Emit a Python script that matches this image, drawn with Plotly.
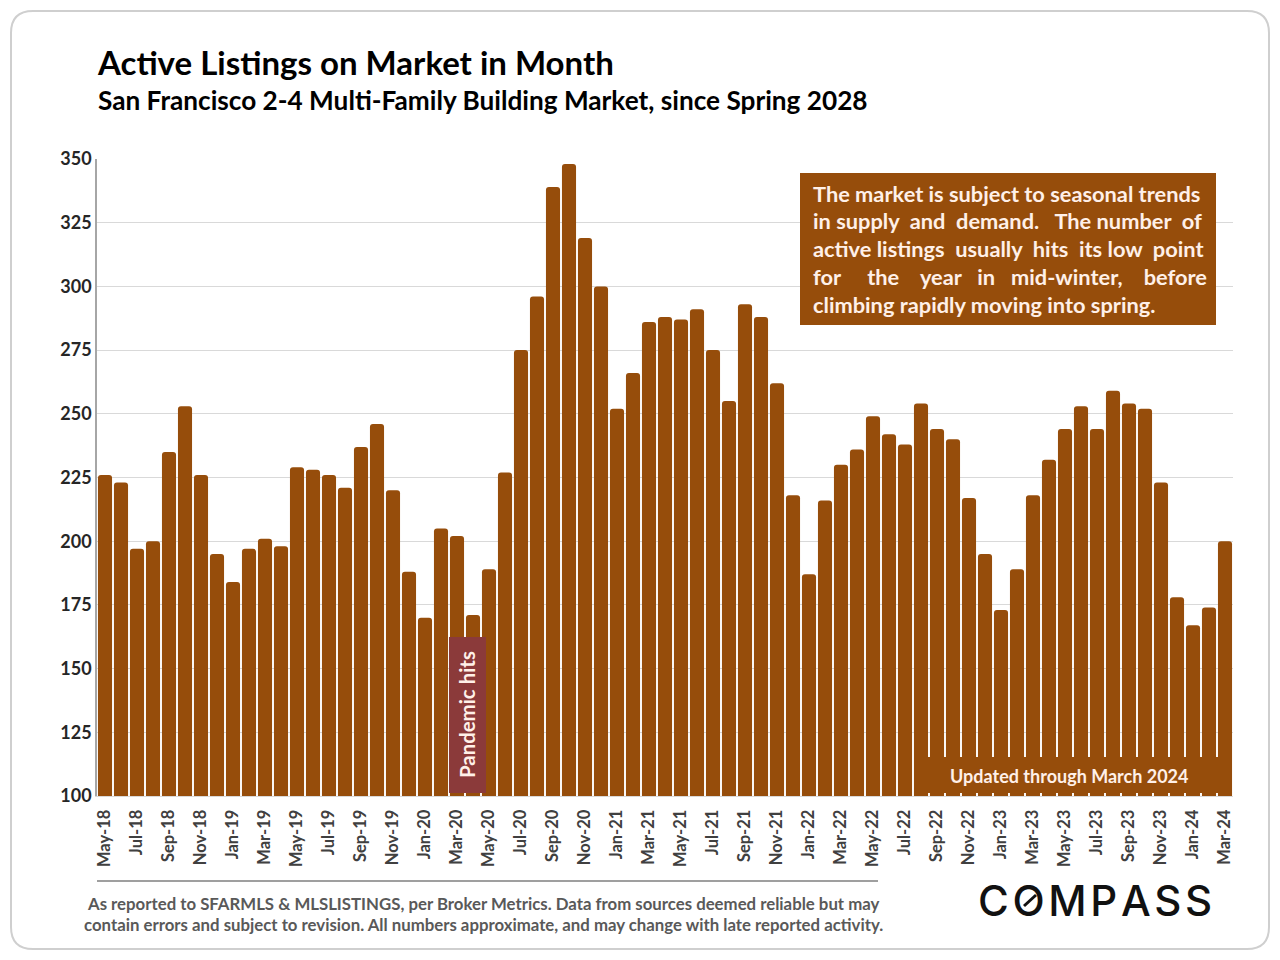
import plotly.graph_objects as go

months = ['May-18','Jun-18','Jul-18','Aug-18','Sep-18','Oct-18','Nov-18','Dec-18',
          'Jan-19','Feb-19','Mar-19','Apr-19','May-19','Jun-19','Jul-19','Aug-19','Sep-19','Oct-19','Nov-19','Dec-19',
          'Jan-20','Feb-20','Mar-20','Apr-20','May-20','Jun-20','Jul-20','Aug-20','Sep-20','Oct-20','Nov-20','Dec-20',
          'Jan-21','Feb-21','Mar-21','Apr-21','May-21','Jun-21','Jul-21','Aug-21','Sep-21','Oct-21','Nov-21','Dec-21',
          'Jan-22','Feb-22','Mar-22','Apr-22','May-22','Jun-22','Jul-22','Aug-22','Sep-22','Oct-22','Nov-22','Dec-22',
          'Jan-23','Feb-23','Mar-23','Apr-23','May-23','Jun-23','Jul-23','Aug-23','Sep-23','Oct-23','Nov-23','Dec-23',
          'Jan-24','Feb-24','Mar-24']
listings = [226,223,197,200,235,253,226,195,
            184,197,201,198,229,228,226,221,237,246,220,188,
            170,205,202,171,189,227,275,296,339,348,319,300,
            252,266,286,288,287,291,275,255,293,288,262,218,
            187,216,230,236,249,242,238,254,244,240,217,195,
            173,189,218,232,244,253,244,259,254,252,223,178,
            167,174,200]
y_ticks = [100,125,150,175,200,225,250,275,300,325,350]
x_ticks = months[::2]

BROWN = '#964D0B'
FONT = 'Lato'
W, H = 1264, 944   # page body keeps an 8px margin


def px(x):
    return (x - 97) / (1233 - 97)


def py(y):
    return (796 - y) / (796 - 159)


def rounded(x0, y0, x1, y1, r):
    return (f'M {px(x0+r)} {py(y0)} L {px(x1-r)} {py(y0)} Q {px(x1)} {py(y0)} {px(x1)} {py(y0+r)} '
            f'L {px(x1)} {py(y1-r)} Q {px(x1)} {py(y1)} {px(x1-r)} {py(y1)} '
            f'L {px(x0+r)} {py(y1)} Q {px(x0)} {py(y1)} {px(x0)} {py(y1-r)} '
            f'L {px(x0)} {py(y0+r)} Q {px(x0)} {py(y0)} {px(x0+r)} {py(y0)} Z')


def note(x, y, text, size, color='#000000', xanchor='left', angle=0, align='left'):
    fig.add_annotation(x=px(x), y=py(y), xref='paper', yref='paper', text=text, showarrow=False,
                       xanchor=xanchor, yanchor='middle', align=align, textangle=angle,
                       font=dict(family=FONT, size=size, color=color, weight=700))


def box(x0, y0, x1, y1, color):
    fig.add_shape(type='rect', xref='paper', yref='paper', x0=px(x0), x1=px(x1), y0=py(y0), y1=py(y1),
                  fillcolor=color, line_width=0)


fig = go.Figure()
fig.add_trace(go.Bar(x=months, y=listings, marker=dict(color=BROWN, line_width=0)))

fig.update_layout(width=W, height=H, showlegend=False, plot_bgcolor='white', paper_bgcolor='white',
                  bargap=0.12, barcornerradius=3,
                  margin=dict(l=89, r=39, t=151, b=156, autoexpand=False))
fig.update_xaxes(type='category', categoryorder='array', categoryarray=months, tickmode='array',
                 tickvals=x_ticks, ticktext=x_ticks, tickangle=-90, ticks='', ticklabelstandoff=6,
                 tickfont=dict(family=FONT, size=16.5, color='#404040', weight=700),
                 showgrid=False, showline=True, linecolor='#D9D9D9', linewidth=1)
fig.update_yaxes(range=[100, 350], tickmode='array', tickvals=y_ticks, ticks='',
                 tickfont=dict(family=FONT, size=18, color='#262626', weight=700),
                 gridcolor='#D9D9D9', gridwidth=1, zeroline=False,
                 showline=True, linecolor='#A6A6A6', linewidth=1.5)

# card outline
fig.add_shape(type='path', xref='paper', yref='paper', path=rounded(11, 11, 1269, 949, 22),
              line=dict(color='#CFCFCF', width=2), layer='below')

# callouts
box(800, 173, 1216, 325, BROWN)
box(449, 637, 486, 793, '#8B3A3A')
box(921, 757, 1222, 793, BROWN)
fig.add_shape(type='line', xref='paper', yref='paper', x0=px(97), x1=px(878), y0=py(881), y1=py(881),
              line=dict(color='#7F7F7F', width=1.5))

note(95, 62, 'Active Listings on Market in Month', 33)
note(96, 100, 'San Francisco 2-4 Multi-Family Building Market, since Spring 2028', 26.2)

callout = ['The market is subject to seasonal trends',
           'in supply\u00a0 and\u00a0 demand.\u00a0\u00a0 The number\u00a0 of',
           'active listings\u00a0 usually\u00a0 hits\u00a0 its low\u00a0 point',
           'for\u00a0\u00a0\u00a0\u00a0 the\u00a0\u00a0\u00a0 year\u00a0\u00a0 in\u00a0\u00a0 mid-winter,\u00a0\u00a0\u00a0 before',
           'climbing rapidly moving into spring.']
for i, line in enumerate(callout):
    note(811, 193 + i * 27.8, line, 21.8, '#FFF0E8')

note(467, 715, 'Pandemic hits', 20.4, '#FFF0E8', xanchor='center', angle=-90)
note(1069, 776, 'Updated through March 2024', 18, '#FFF0E8', xanchor='center')

note(483, 903, 'As reported to SFARMLS &amp; MLSLISTINGS, per Broker Metrics. Data from sources deemed reliable but may',
     16.8, '#595959', xanchor='center')
note(483, 924, 'contain errors and subject to revision. All numbers approximate, and may change with late reported activity.',
     16.8, '#595959', xanchor='center')

# logo wordmark
fig.add_annotation(x=px(1095), y=py(900), xref='paper', yref='paper', showarrow=False, xanchor='center', yanchor='middle',
                   text='C\u200aO\u200aM\u200aP\u200aA\u200aS\u200aS',
                   font=dict(family='Inter', size=42, color='#111111', weight=500))
fig.add_shape(type='line', xref='paper', yref='paper', x0=px(1024), x1=px(1036), y0=py(906), y1=py(895),
              line=dict(color='#111111', width=3))

fig.write_html("out.html")
